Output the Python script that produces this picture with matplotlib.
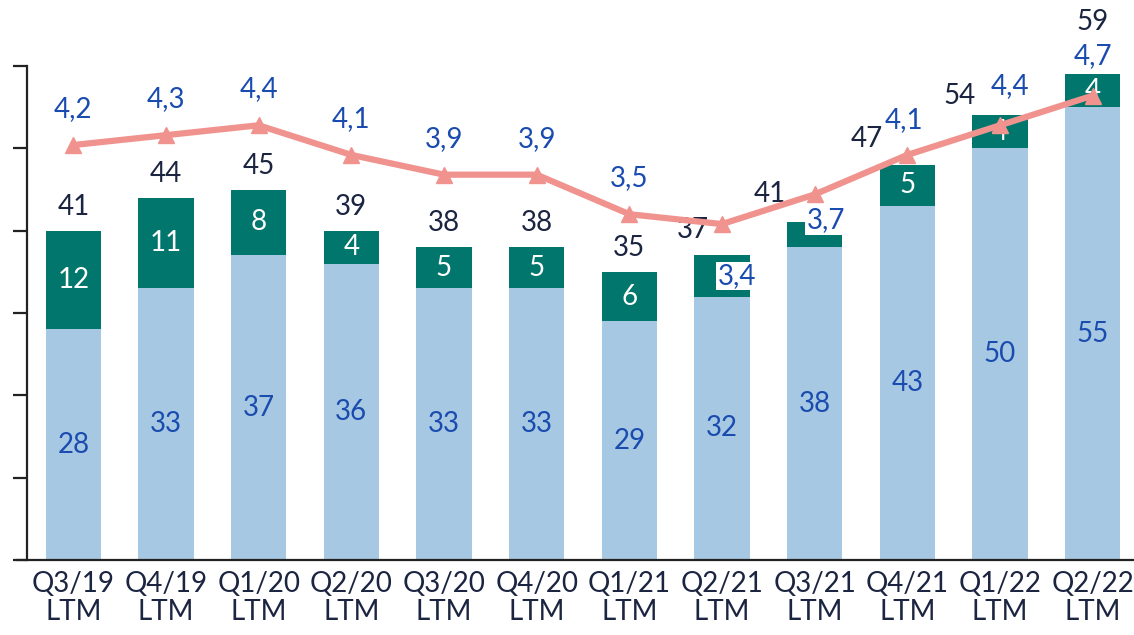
import matplotlib
matplotlib.use("Agg")
from matplotlib import pyplot as plt

plt.rcParams['font.family'] = ['Lato', 'DejaVu Sans']

# data
quarters = ["Q3/19", "Q4/19", "Q1/20", "Q2/20", "Q3/20", "Q4/20",
            "Q1/21", "Q2/21", "Q3/21", "Q4/21", "Q1/22", "Q2/22"]
base = [28, 33, 37, 36, 33, 33, 29, 32, 38, 43, 50, 55]
extra = [12, 11, 8, 4, 5, 5, 6, 5, 3, 5, 4, 4]
totals = [41, 44, 45, 39, 38, 38, 35, 37, 41, 47, 54, 59]
ratio = [4.2, 4.3, 4.4, 4.1, 3.9, 3.9, 3.5, 3.4, 3.7, 4.1, 4.4, 4.7]
show_extra = [True, True, True, True, True, True, True, False, False, True, True, True]

# label offsets in pixels (layout only)
total_off = [(0, 24)] * 7 + [(-29, 25), (-45, 28), (-41, 26), (-40, 19), (0, 52)]
ratio_off = [(0, 36)] * 7 + [(15, -52), (11, -26), (-3, 35), (10, 39), (0, 40)]

c_light = "#A7C8E2"
c_dark = "#00766C"
c_line = "#F0938E"
c_blue = "#1A4CB0"
c_navy = "#1B2440"
fs = 20

fig = plt.figure(figsize=(11.34, 6.35), dpi=100)
ax = fig.add_axes([27 / 1134, 75 / 635, 1112 / 1134, 494 / 635])
x = list(range(len(quarters)))

ax.bar(x, base, width=0.6, color=c_light, zorder=2)
ax.bar(x, extra, bottom=base, width=0.6, color=c_dark, zorder=2)
ax.set_xlim(-0.5, 11.5)
ax.set_ylim(0, 60)
ax.set_yticks(range(0, 61, 10))
ax.set_yticklabels([])
ax.set_xticks(x)
ax.set_xticklabels([q + "\nLTM" for q in quarters], fontsize=fs, color=c_navy, linespacing=1.1)
ax.tick_params(axis='x', length=0, pad=8)
ax.tick_params(axis='y', length=10, width=1.6, direction='out', color="#222222")
for s in ["top", "right"]:
    ax.spines[s].set_visible(False)
for s in ["left", "bottom"]:
    ax.spines[s].set_linewidth(1.6)
    ax.spines[s].set_color("#222222")
ax.spines["bottom"].set_bounds(-0.61, 11.5)

for i in x:
    ax.text(i, base[i] / 2, str(base[i]), ha='center', va='center', fontsize=fs, color=c_blue, zorder=3)
    if show_extra[i]:
        ax.text(i, base[i] + extra[i] / 2, str(extra[i]), ha='center', va='center',
                fontsize=fs, color='white', zorder=3)
    ax.annotate(str(totals[i]), (i, base[i] + extra[i]), xytext=total_off[i],
                textcoords='offset pixels', ha='center', va='center', fontsize=fs,
                color=c_navy, annotation_clip=False, zorder=5)

ax2 = ax.twinx()
ax2.set_ylim(0, 5.0)
ax2.axis('off')
ax2.plot(x, ratio, color=c_line, lw=4.5, marker='^', markersize=11, zorder=4)
for i in x:
    lbl = f"{ratio[i]:.1f}".replace(".", ",")
    box = None
    if i in (7, 8):
        box = dict(facecolor='white', edgecolor='none', pad=1)
    ax2.annotate(lbl, (i, ratio[i]), xytext=ratio_off[i], textcoords='offset pixels',
                 ha='center', va='center', fontsize=fs, color=c_blue, bbox=box,
                 annotation_clip=False, zorder=6)

fig.savefig("out.png", dpi=100)
